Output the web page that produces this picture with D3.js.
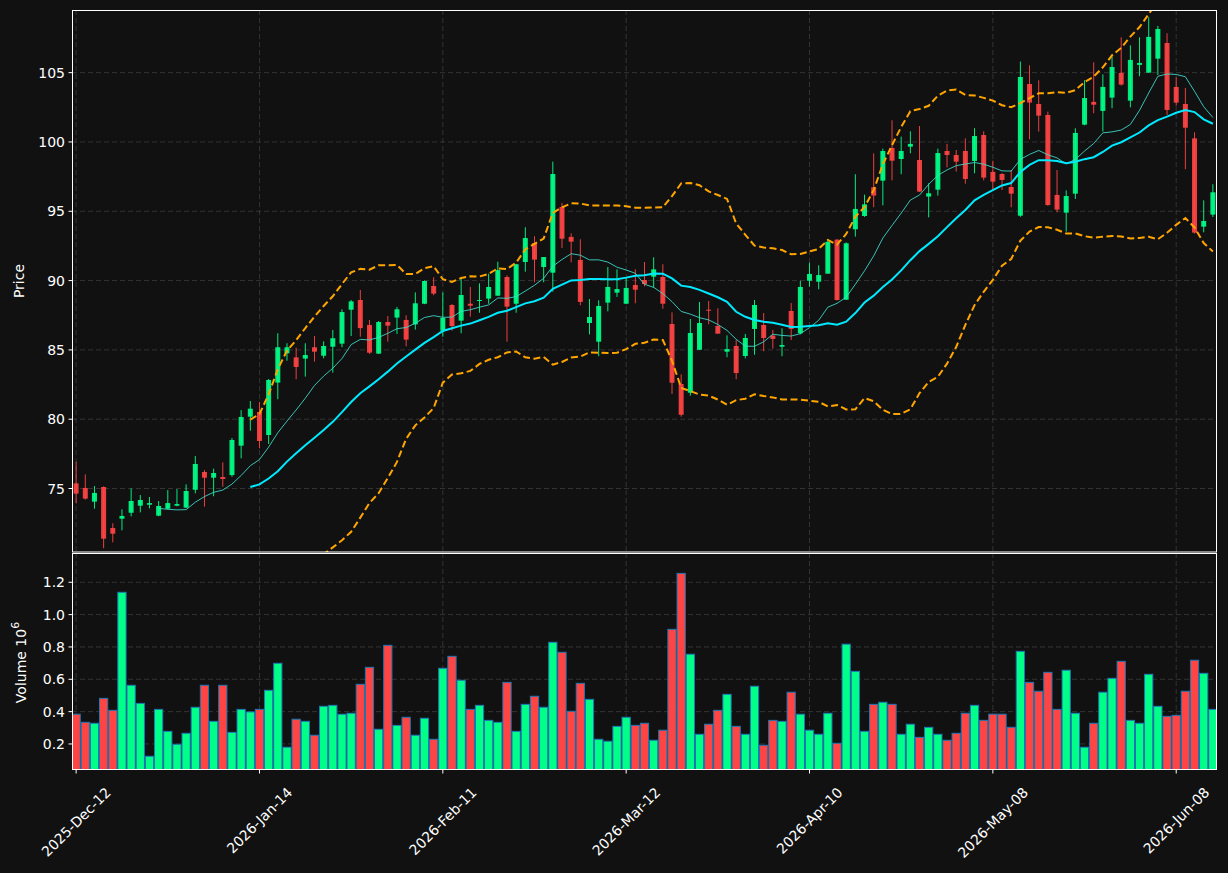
<!DOCTYPE html>
<html><head><meta charset="utf-8">
<script src="https://cdn.jsdelivr.net/npm/d3@7"></script>
<style>body{margin:0;background:#111111}svg{display:block}</style>
</head><body><svg id="c" width="1228" height="873"></svg>
<script>
const opens=[75.37,75.04,74.05,75.11,72.15,72.82,73.25,73.76,73.83,73.04,73.54,73.76,73.62,74.91,76.19,75.78,75.83,75.97,78.09,80.18,
80.52,78.86,82.64,84.75,84.46,84.37,85.19,84.58,85.23,85.45,87.9,88.6,86.8,84.73,87.01,87.33,87.16,86.84,88.33,89.61,
86.38,88.24,87.11,88.33,88.55,88.7,88.91,90.26,88.33,91.34,92.71,90.98,90.57,95.31,93.15,91.49,86.94,85.59,88.41,89.13,
88.33,89.68,90.04,90.28,90.26,86.87,82.54,81.91,85.01,87.9,86.72,84.87,85.28,84.56,86.51,86.8,86.03,85.23,87.81,86.2,
89.99,89.92,90.5,92.95,88.62,93.7,94.66,96.73,97.21,99.57,98.77,99.66,98.7,96.06,96.56,99.35,99.06,99.35,98.63,100.5,
97.84,97.69,96.75,94.68,104.18,102.74,101.95,96.18,94.9,96.27,101.25,102.89,102.24,103.2,104.98,102.98,105.56,105.0,106.01,107.14,
103.97,102.74,100.26,93.89,94.76];
const highs=[76.93,76.02,75.18,75.15,72.49,73.5,75.01,74.53,74.39,74.1,74.89,74.96,75.3,77.34,76.33,76.43,76.89,78.64,80.66,81.31,
81.24,82.9,86.2,85.48,85.16,85.48,86.0,85.62,86.44,87.93,88.6,89.32,87.16,87.08,87.45,88.1,87.5,89.15,90.0,90.24,
89.15,88.3,90.12,89.54,89.8,90.5,91.36,90.38,91.2,93.85,93.2,91.7,98.58,95.6,93.41,92.98,88.67,88.58,90.98,90.81,
90.21,90.81,91.34,91.68,91.18,87.71,83.24,87.23,88.46,88.53,88.0,86.05,85.71,86.15,88.6,87.66,86.44,86.56,88.38,89.99,
91.29,91.1,92.94,93.0,92.75,97.67,96.2,99.18,99.52,101.56,100.38,100.77,101.15,97.02,99.52,99.86,99.42,100.26,100.99,100.77,
98.65,97.75,97.98,105.8,105.53,104.45,102.19,97.98,96.51,100.99,104.45,105.75,104.88,106.16,107.55,106.97,107.55,109.0,108.37,107.84,
104.66,103.9,100.7,95.79,96.95];
const lows=[73.93,74.2,73.54,70.69,71.12,71.98,72.99,73.28,73.57,73.0,73.5,73.72,73.58,74.65,73.69,74.44,75.13,75.85,77.18,79.17,
77.9,78.21,81.44,84.22,82.88,83.07,84.15,84.39,83.36,85.19,86.0,85.95,84.7,84.7,85.59,86.15,85.26,86.46,88.3,88.94,
85.95,86.39,86.2,87.4,87.68,88.33,88.9,85.59,87.68,90.64,89.88,89.88,89.2,92.35,91.32,88.22,86.12,84.54,87.78,88.82,
88.3,88.36,89.59,89.49,87.97,81.82,80.18,81.7,85.0,86.85,86.17,84.47,82.88,84.39,84.65,84.9,85.09,84.54,85.71,86.12,
89.56,89.37,90.5,88.55,88.6,93.17,94.6,95.29,95.43,97.23,97.67,99.18,96.4,94.56,96.13,98.17,97.86,96.99,97.74,97.23,
96.54,96.54,95.29,94.6,100.19,100.75,95.4,94.92,93.53,95.89,101.2,102.07,100.75,102.43,104.07,102.5,104.74,105.0,104.83,101.95,
102.62,98.03,93.4,93.48,94.59];
const closes=[74.63,74.27,74.68,71.38,71.74,73.02,74.1,74.17,73.95,73.74,73.95,73.88,74.82,76.77,75.78,76.12,75.69,78.5,80.16,80.76,
78.43,82.83,85.19,85.19,83.77,84.63,84.87,85.28,85.84,87.73,88.5,86.57,84.8,87.01,86.75,87.93,85.74,88.36,89.97,89.06,
87.3,86.72,88.96,88.19,88.6,89.54,90.76,88.12,91.18,93.07,91.51,91.7,97.69,93.02,92.81,88.46,87.37,88.17,89.54,89.39,
89.47,89.34,89.75,90.81,88.33,82.63,80.32,86.22,86.94,87.83,86.17,85.06,83.33,85.86,88.24,85.86,85.79,85.35,86.51,89.54,
90.48,90.4,92.8,88.6,92.69,95.17,95.5,96.13,99.35,98.65,99.35,99.86,96.42,96.3,99.2,99.06,98.58,97.33,100.43,97.43,
97.14,97.26,96.27,104.69,102.84,101.9,95.45,95.12,96.1,100.65,103.17,102.69,103.97,105.41,104.14,105.92,105.7,107.58,108.15,102.31,
102.84,101.03,93.46,94.3,96.37];
const volumes=[384000,334000,328000,482000,408000,1138000,563000,451000,124000,414000,278000,198000,266000,427000,563000,340000,563000,272000,414000,398000,
414000,532000,699000,180000,353000,340000,254000,433000,439000,384000,390000,569000,674000,291000,810000,315000,365000,254000,359000,229000,
668000,742000,594000,414000,439000,346000,334000,581000,278000,445000,495000,427000,829000,767000,402000,575000,476000,229000,217000,309000,
365000,315000,328000,223000,285000,909000,1255000,755000,260000,322000,408000,507000,309000,260000,557000,192000,346000,340000,520000,384000,
285000,260000,390000,204000,817000,649000,278000,445000,458000,445000,260000,322000,241000,303000,260000,223000,266000,390000,439000,346000,
384000,384000,303000,773000,581000,526000,643000,414000,656000,390000,180000,328000,520000,606000,711000,346000,328000,631000,433000,371000,
377000,526000,718000,637000,414000];
const tickIdx=[0,20,40,60,80,100,120];
const tickLabels=["2025-Dec-12","2026-Jan-14","2026-Feb-11","2026-Mar-12","2026-Apr-10","2026-May-08","2026-Jun-08"];
const priceTicks=[75,80,85,90,95,100,105];
const volTicks=[0.2,0.4,0.6,0.8,1.0,1.2];

const W=1228,H=873,L=72,R=1217,PT=10,PB=552,VT=553,VB=770;
const UP="#00ff88",DN="#ff4444",TXT="#ffffff",GRID="#3c3c3c";
const n=closes.length, idx=d3.range(n);
const svg=d3.select("#c");
svg.append("rect").attr("width",W).attr("height",H).attr("fill","#111111");
const x=d3.scaleLinear().domain([-0.45,n-1+0.45]).range([L,R]);
const yP=d3.scaleLinear().domain([70.42,109.52]).range([PB,PT]);
const yV=d3.scaleLinear().domain([0.039e6,1.381e6]).range([VB,VT]);
const defs=svg.append("defs");
defs.append("clipPath").attr("id","cp").append("rect").attr("x",L).attr("y",PT).attr("width",R-L).attr("height",PB-PT);
defs.append("clipPath").attr("id","cv").append("rect").attr("x",L).attr("y",VT).attr("width",R-L).attr("height",VB-VT);

// grids
const g=svg.append("g").attr("stroke",GRID).attr("stroke-width",0.8).attr("stroke-dasharray","5,3");
tickIdx.forEach(i=>{
  g.append("line").attr("x1",x(i)).attr("x2",x(i)).attr("y1",PT).attr("y2",PB);
  g.append("line").attr("x1",x(i)).attr("x2",x(i)).attr("y1",VT).attr("y2",VB);
});
priceTicks.forEach(p=>g.append("line").attr("x1",L).attr("x2",R).attr("y1",yP(p)).attr("y2",yP(p)));
volTicks.forEach(v=>g.append("line").attr("x1",L).attr("x2",R).attr("y1",yV(v*1e6)).attr("y2",yV(v*1e6)));

// indicators
function rollMean(arr,w){return arr.map((_,i)=>i<w-1?null:d3.mean(arr.slice(i-w+1,i+1)));}
function rollStd(arr,w){return arr.map((_,i)=>i<w-1?null:d3.deviation(arr.slice(i-w+1,i+1)));}
const ma10=rollMean(closes,10), ma20=rollMean(closes,20), sd20=rollStd(closes,20);
const upper=ma20.map((m,i)=>m==null?null:m+2*sd20[i]);
const lower=ma20.map((m,i)=>m==null?null:m-2*sd20[i]);
const pg=svg.append("g").attr("clip-path","url(#cp)");
const line=d3.line().defined(d=>d[1]!=null).x(d=>x(d[0])).y(d=>yP(d[1]));
function series(arr){return idx.map(i=>[i,arr[i]]);}
// candles
const cg=pg.append("g");
idx.forEach(i=>{
  const up=closes[i]>=opens[i], col=up?UP:DN;
  cg.append("line").attr("x1",x(i)).attr("x2",x(i)).attr("y1",yP(highs[i])).attr("y2",yP(lows[i]))
    .attr("stroke",col).attr("stroke-width",1).attr("opacity",0.92);
  const top=yP(Math.max(opens[i],closes[i])), bot=yP(Math.min(opens[i],closes[i]));
  cg.append("rect").attr("x",x(i)-2.5).attr("width",5).attr("y",top).attr("height",Math.max(1,bot-top))
    .attr("fill",col).attr("opacity",0.92);
});
pg.append("path").attr("d",line(series(upper))).attr("fill","none").attr("stroke","#ffa500").attr("stroke-width",2).attr("stroke-dasharray","7,3.5");
pg.append("path").attr("d",line(series(lower))).attr("fill","none").attr("stroke","#ffa500").attr("stroke-width",2).attr("stroke-dasharray","7,3.5");
pg.append("path").attr("d",line(series(ma10))).attr("fill","none").attr("stroke","#40e0d0").attr("stroke-width",1).attr("opacity",0.85);
pg.append("path").attr("d",line(series(ma20))).attr("fill","none").attr("stroke","#00eaff").attr("stroke-width",2);

// volume
const vg=svg.append("g").attr("clip-path","url(#cv)");
const bw=(x(1)-x(0))*0.9;
idx.forEach(i=>{
  const up=closes[i]>=opens[i];
  vg.append("rect").attr("x",x(i)-bw/2).attr("width",bw).attr("y",yV(volumes[i])).attr("height",VB-yV(volumes[i]))
    .attr("fill",up?UP:DN).attr("stroke","#1f77b4").attr("stroke-width",1);
});

// frames
svg.append("rect").attr("x",L+0.5).attr("y",PT+0.5).attr("width",R-L-1).attr("height",PB-PT-0.5).attr("fill","none").attr("stroke","#ffffff").attr("stroke-width",1);
svg.append("rect").attr("x",L+0.5).attr("y",VT+0.5).attr("width",R-L-1).attr("height",VB-VT-1).attr("fill","none").attr("stroke","#ffffff").attr("stroke-width",1);

// axes
const font="'DejaVu Sans', sans-serif";
const ax=svg.append("g").attr("font-family",font).attr("font-size",14).attr("fill",TXT);
priceTicks.forEach(p=>{
  ax.append("line").attr("x1",L-3.5).attr("x2",L).attr("y1",yP(p)).attr("y2",yP(p)).attr("stroke","#fff");
  ax.append("text").attr("x",L-7).attr("y",yP(p)).attr("text-anchor","end").attr("dominant-baseline","central").text(p);
});
volTicks.forEach(v=>{
  ax.append("line").attr("x1",L-3.5).attr("x2",L).attr("y1",yV(v*1e6)).attr("y2",yV(v*1e6)).attr("stroke","#fff");
  ax.append("text").attr("x",L-7).attr("y",yV(v*1e6)).attr("text-anchor","end").attr("dominant-baseline","central").text(v.toFixed(1));
});
tickIdx.forEach((i,k)=>{
  ax.append("line").attr("x1",x(i)).attr("x2",x(i)).attr("y1",VB).attr("y2",VB+3.5).attr("stroke","#fff");
  const t=ax.append("text").attr("text-anchor","middle").attr("dominant-baseline","central").text(tickLabels[k]);
  const len=t.node().getComputedTextLength();
  const cy=785+(len+14)/(2*Math.SQRT2);
  t.attr("transform",`translate(${x(i)},${cy}) rotate(-45)`);
});
ax.append("text").attr("transform",`translate(24,${(PT+PB)/2}) rotate(-90)`).attr("text-anchor","middle").text("Price");
const vl=ax.append("text").attr("transform",`translate(26,${(VT+VB)/2+1}) rotate(-90)`).attr("text-anchor","middle");
vl.append("tspan").text("Volume  10");
vl.append("tspan").attr("font-size",11).attr("dy",-7).text("6");
</script></body></html>
